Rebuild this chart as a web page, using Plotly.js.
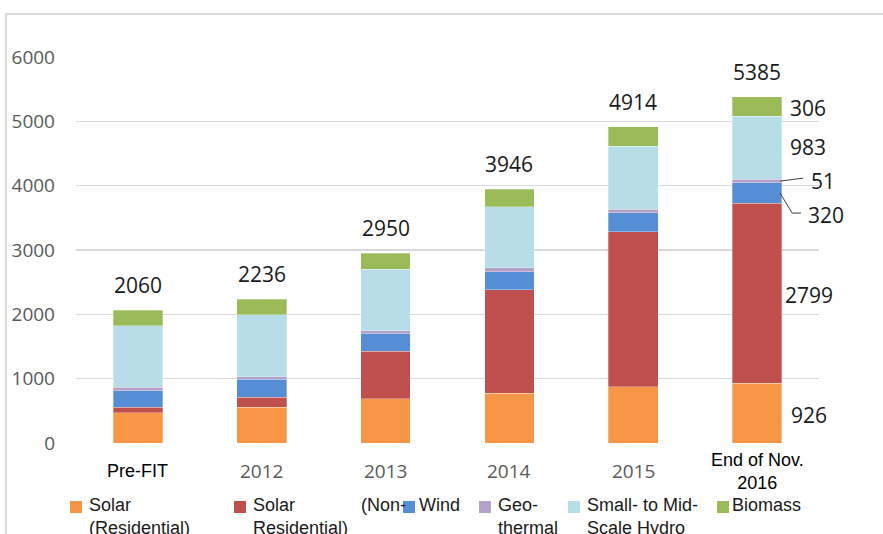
<!DOCTYPE html>
<html>
<head>
<meta charset="utf-8">
<script src="https://cdn.plot.ly/plotly-3.0.1.min.js"></script>
<style>
  html, body { margin: 0; padding: 0; background: #fff; }
  #wrap { position: relative; width: 883px; height: 534px; }
  #chart { position: absolute; left: 0; top: 0; width: 883px; height: 534px; }
  #frame { position: absolute; left: 5px; top: 13px; width: 878px; height: 521px;
           border-top: 2px solid #d9d9d9; border-left: 2px solid #d9d9d9; box-sizing: border-box; pointer-events: none; }
</style>
</head>
<body>
<div id="wrap">
  <div id="chart"></div>
  <div id="frame"></div>
</div>
<script>
// ---- data ----
const categories = ['Pre-FIT', '2012', '2013', '2014', '2015', 'End of Nov. 2016'];
const categoryLabels = ['Pre-FIT', '2012', '2013', '2014', '2015', 'End of Nov.<br>2016'];
const seriesNames = ['Solar (Residential)', 'Solar (Non-Residential)', 'Wind', 'Geo-thermal', 'Small- to Mid-Scale Hydro', 'Biomass'];
const legendLabels = ['Solar<br>(Residential)', 'Solar<br>Residential)', 'Wind', 'Geo-<br>thermal', 'Small- to Mid-<br>Scale Hydro', 'Biomass'];
const legendOverflow = '(Non-';
const solarResidential    = [467, 555, 690, 773, 871, 926];
const solarNonResidential = [88, 160, 736, 1607, 2410, 2799];
const wind                = [254, 275, 269, 285, 301, 320];
const geothermal          = [55, 36, 52, 57, 52, 51];
const hydro               = [958, 970, 954, 950, 975, 983];
const biomass             = [238, 240, 249, 274, 305, 306];
const totals              = [2060, 2236, 2950, 3946, 4914, 5385];
const yTicks = [0, 1000, 2000, 3000, 4000, 5000, 6000];

const series = [solarResidential, solarNonResidential, wind, geothermal, hydro, biomass];
const colors = ['#F79646', '#C0504D', '#558ED5', '#B3A2C7', '#B7DEE8', '#9BBB59'];

// ---- layout geometry ----
const W = 883, H = 534;
const L = 76, R = 819, T = 57, B = 443;
const px2x = p => (p - L) / (R - L);
const py2y = p => (B - p) / (B - T);
const idx = categories.map((c, i) => i);

const traces = series.map((vals, i) => ({
  type: 'bar',
  name: seriesNames[i],
  x: idx,
  y: vals,
  customdata: categories,
  marker: { color: colors[i], line: { color: 'rgba(255,255,255,0.5)', width: 0.6 } },
  hoverinfo: 'skip'
}));

const labelFont = { family: 'Open Sans', size: 21, color: '#1a1a1a' };
const annotations = [];
const shapes = [];

// totals above bars
idx.forEach(i => {
  annotations.push({
    x: i, y: totals[i], xref: 'x', yref: 'y', text: String(totals[i]),
    showarrow: false, yanchor: 'middle', yshift: 25, font: labelFont
  });
});

// segment labels for the last bar
const last = categories.length - 1;
let cum = 0;
const mids = series.map(s => { const m = cum + s[last] / 2; cum += s[last]; return m; });
const segShift = [{dx: 52, dy: -2}, {dx: 52, dy: -2}, {dx: 69, dy: -22}, {dx: 66, dy: 0}, {dx: 51, dy: 1}, {dx: 51, dy: -2}];
series.forEach((s, i) => {
  annotations.push({
    x: last, y: mids[i], xref: 'x', yref: 'y', text: String(s[last]),
    showarrow: false, xshift: segShift[i].dx, yshift: segShift[i].dy, font: labelFont
  });
});
// leader lines for Geo-thermal (51) and Wind (320)
const leader = { color: '#404040', width: 1 };
shapes.push({ type: 'line', xref: 'x', yref: 'y', xsizemode: 'pixel', ysizemode: 'pixel',
  xanchor: last, yanchor: mids[3], x0: 23, x1: 46, y0: 0, y1: 3, line: leader });
shapes.push({ type: 'line', xref: 'x', yref: 'y', xsizemode: 'pixel', ysizemode: 'pixel',
  xanchor: last, yanchor: mids[2], x0: 23, x1: 35, y0: 0, y1: -20, line: leader });
shapes.push({ type: 'line', xref: 'x', yref: 'y', xsizemode: 'pixel', ysizemode: 'pixel',
  xanchor: last, yanchor: mids[2], x0: 35, x1: 44, y0: -20, y1: -20, line: leader });

// category labels (x axis)
idx.forEach(i => {
  const isYear = /^\d{4}$/.test(categoryLabels[i]);
  annotations.push({
    x: i, xref: 'x', yref: 'paper', y: py2y(471), yanchor: 'middle',
    text: categoryLabels[i], showarrow: false,
    font: isYear ? { family: 'Open Sans', size: 19, color: '#595959' }
                 : { family: 'Liberation Sans, Arial', size: 18, color: '#000' }
  });
});

// manual legend
const markerLeft = [70, 234, 403, 479, 568, 717];
const textLeft = [89, 253, 419, 498, 587, 732];
const legendFont = { family: 'Liberation Sans, Arial', size: 18, color: '#1a1a1a' };
seriesNames.forEach((n, i) => {
  shapes.push({ type: 'rect', xref: 'paper', yref: 'paper', line: { width: 0 }, fillcolor: colors[i],
    x0: px2x(markerLeft[i]), x1: px2x(markerLeft[i] + 12), y0: py2y(513), y1: py2y(501) });
  annotations.push({ xref: 'paper', yref: 'paper', x: px2x(textLeft[i] - 2), y: py2y(493),
    xanchor: 'left', yanchor: 'top', align: 'left', text: legendLabels[i], showarrow: false, font: legendFont });
});
annotations.push({ xref: 'paper', yref: 'paper', x: px2x(359), y: py2y(493),
  xanchor: 'left', yanchor: 'top', align: 'left', text: legendOverflow, showarrow: false, font: legendFont });

const layout = {
  width: W, height: H,
  margin: { l: L, r: W - R, t: T, b: H - B, pad: 0 },
  paper_bgcolor: '#ffffff', plot_bgcolor: '#ffffff',
  barmode: 'stack', bargap: 0.6,
  showlegend: false,
  xaxis: { type: 'linear', range: [-0.5, categories.length - 0.5], showticklabels: false, showgrid: false,
           zeroline: false, showline: false, ticks: '', fixedrange: true },
  yaxis: { range: [0, 6000], tickvals: yTicks, ticktext: yTicks.map(String), showgrid: true, gridcolor: '#d9d9d9', gridwidth: 1.5,
           zeroline: false, showline: false, ticks: '', ticklabelstandoff: 20,
           tickfont: { family: 'Open Sans', size: 19, color: '#595959' }, fixedrange: true },
  annotations: annotations,
  shapes: shapes
};

Plotly.newPlot('chart', traces, layout, { displayModeBar: false, staticPlot: true });
</script>
</body>
</html>
